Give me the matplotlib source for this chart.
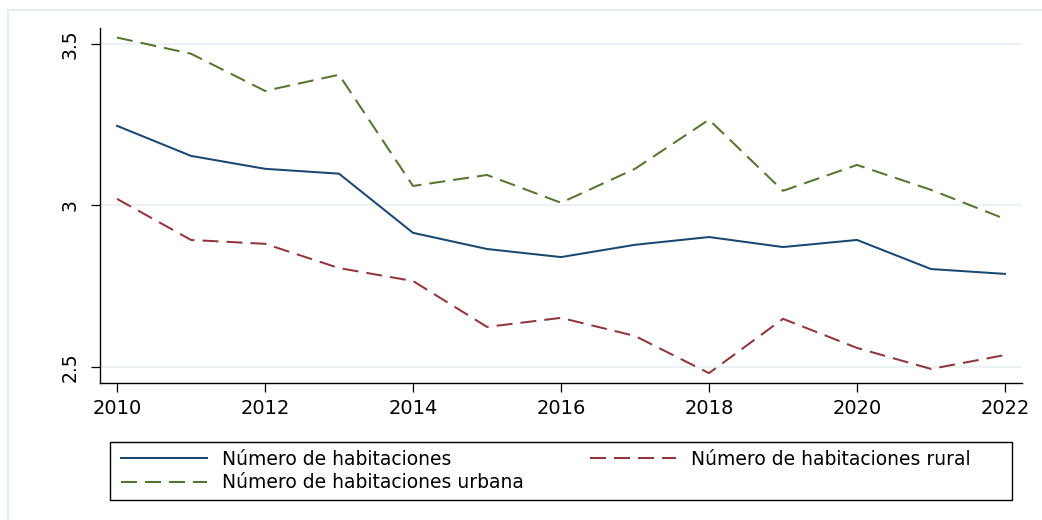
import matplotlib
matplotlib.use("Agg")
import matplotlib.pyplot as plt
from matplotlib.patches import Rectangle

plt.rcParams['font.family'] = ['DejaVu Sans']
plt.rcParams['lines.scale_dashes'] = False

years = [2010, 2011, 2012, 2013, 2014, 2015, 2016, 2017, 2018, 2019, 2020, 2021, 2022]
total = [3.246, 3.153, 3.113, 3.098, 2.915, 2.865, 2.840, 2.878, 2.902, 2.871, 2.893, 2.803, 2.788]
rural = [3.020, 2.893, 2.881, 2.806, 2.766, 2.624, 2.652, 2.596, 2.481, 2.649, 2.559, 2.494, 2.537]
urbana = [3.519, 3.469, 3.354, 3.404, 3.060, 3.094, 3.008, 3.113, 3.265, 3.045, 3.125, 3.048, 2.958]
labels = ["Número de habitaciones", "Número de habitaciones rural", "Número de habitaciones urbana"]
xticks = [2010, 2012, 2014, 2016, 2018, 2020, 2022]
yticks = [2.5, 3.0, 3.5]
yticklabels = ["2.5", "3", "3.5"]

W, H = 1042, 520
fig = plt.figure(figsize=(W / 100, H / 100), dpi=100)
fig.patch.set_facecolor('white')

# outer light frame
fig.patches.append(Rectangle((8 / W, -0.1), 1.2, 1 - 10 / H + 0.1, transform=fig.transFigure,
                             fill=False, edgecolor='#e6edf0', lw=1.5, zorder=0))

ax = fig.add_axes([100 / W, 1 - 383 / H, 922 / W, 355 / H])
ax.set_facecolor('white')

dash = (0, (11.5, 5.8))
l1, = ax.plot(years, total, color='#1a476f', lw=1.45, label=labels[0])
l2, = ax.plot(years, rural, color='#90353b', lw=1.45, linestyle=dash, label=labels[1])
l3, = ax.plot(years, urbana, color='#55752f', lw=1.45, linestyle=dash, label=labels[2])

ax.set_xlim(2009.77, 2022.23)
ax.set_ylim(2.4505, 3.5486)
ax.set_xticks(xticks)
ax.set_xticklabels([str(x) for x in xticks])
ax.set_yticks(yticks)
ax.set_yticklabels(yticklabels, rotation=90, va='center')
ax.tick_params(axis='both', direction='out', length=6.5, width=0.9, color='black')
ax.tick_params(axis='x', pad=5, labelsize=14)
ax.tick_params(axis='y', pad=8, labelsize=13.5)
for s in ['top', 'right']:
    ax.spines[s].set_visible(False)
for s in ['left', 'bottom']:
    ax.spines[s].set_linewidth(1.0)
ax.yaxis.grid(True, color='#eaf2f3', lw=1.5)
ax.set_axisbelow(True)

# legend
fs = 13.5
fs_px = fs * 100 / 72
renderer = fig.canvas.get_renderer()
tmp = fig.text(0, 0, labels[2], fontsize=fs)
w_txt = tmp.get_window_extent(renderer).width
tmp.remove()
hl_px, htp_px = 86, 15
colsp = (590 - 121 - hl_px - htp_px - w_txt) / fs_px

fig.patches.append(Rectangle((110 / W, 1 - 500 / H), (1012 - 110) / W, (500 - 442) / H,
                             transform=fig.transFigure, fill=False, edgecolor='black', lw=1.0))
leg = fig.legend(handles=[l1, l3, l2], labels=[labels[0], labels[2], labels[1]],
                 ncol=2, loc='upper left', bbox_to_anchor=(121 / W, 1 - 450 / H),
                 frameon=False, fontsize=fs, borderpad=0, borderaxespad=0,
                 handlelength=hl_px / fs_px, handletextpad=htp_px / fs_px,
                 labelspacing=0.22, columnspacing=colsp)

fig.savefig('out.png', dpi=100, facecolor='white')
